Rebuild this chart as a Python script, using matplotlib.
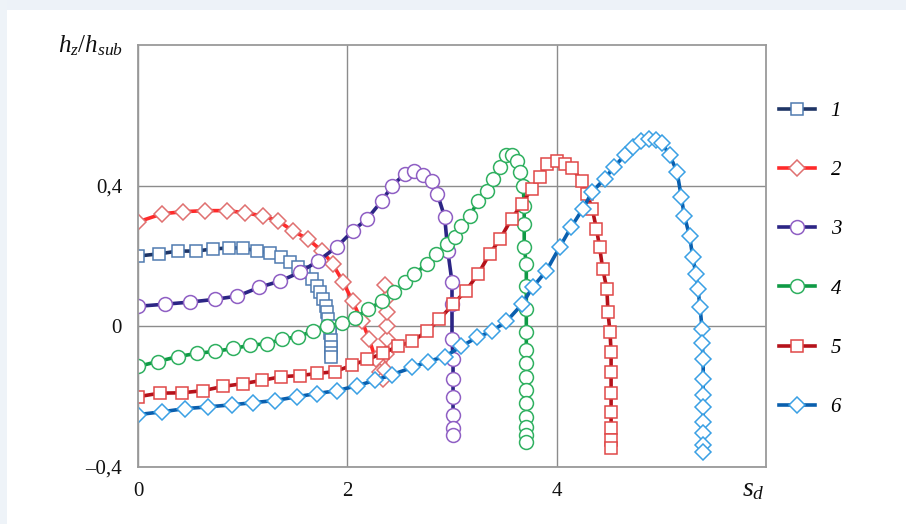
import matplotlib
matplotlib.use("Agg")
import matplotlib.pyplot as plt
from matplotlib.patches import Rectangle

# ---- data ----
s1 = [0.0, 0.20, 0.38, 0.55, 0.72, 0.87, 1.00, 1.14, 1.26, 1.37, 1.45, 1.53, 1.59, 1.66, 1.71,
      1.74, 1.77, 1.80, 1.81, 1.82, 1.83, 1.83, 1.84, 1.84, 1.84, 1.84]
v1 = [0.200, 0.206, 0.214, 0.214, 0.220, 0.223, 0.223, 0.214, 0.209, 0.197, 0.183, 0.169, 0.154,
      0.134, 0.114, 0.097, 0.077, 0.057, 0.040, 0.020, 0.000, -0.020, -0.040, -0.060, -0.075, -0.086]

s2 = [0.0, 0.23, 0.43, 0.64, 0.85, 1.02, 1.19, 1.34, 1.48, 1.62, 1.76, 1.86, 1.96, 2.05, 2.14,
      2.21, 2.27, 2.31, 2.34, 2.36, 2.37, 2.38, 2.38, 2.38, 2.37, 2.36]
v2 = [0.297, 0.320, 0.326, 0.329, 0.329, 0.323, 0.314, 0.300, 0.271, 0.249, 0.214, 0.177, 0.126,
      0.071, 0.014, -0.037, -0.094, -0.131, -0.151, -0.123, -0.080, -0.037, 0.000, 0.040, 0.077, 0.117]

s3 = [0.0, 0.26, 0.50, 0.74, 0.95, 1.16, 1.36, 1.55, 1.72, 1.90, 2.05, 2.19, 2.33, 2.43, 2.55,
      2.64, 2.72, 2.81, 2.86, 2.93, 2.96, 3.00, 3.00, 3.00, 3.01, 3.01, 3.01, 3.01, 3.01, 3.01]
v3 = [0.057, 0.063, 0.069, 0.077, 0.086, 0.111, 0.129, 0.154, 0.186, 0.226, 0.271, 0.306, 0.357,
      0.400, 0.434, 0.443, 0.429, 0.414, 0.377, 0.311, 0.214, 0.126, 0.063, -0.037, -0.094,
      -0.151, -0.200, -0.251, -0.289, -0.309]

s4 = [0.0, 0.19, 0.38, 0.56, 0.74, 0.91, 1.07, 1.23, 1.38, 1.53, 1.67, 1.81, 1.95, 2.07, 2.20,
      2.33, 2.45, 2.55, 2.64, 2.76, 2.85, 2.95, 3.03, 3.09, 3.17, 3.25, 3.33, 3.39, 3.46, 3.52,
      3.57, 3.62, 3.65, 3.68, 3.69, 3.69, 3.69, 3.71, 3.71, 3.71, 3.71, 3.71, 3.71, 3.71, 3.71,
      3.71, 3.71, 3.71, 3.71, 3.71]
v4 = [-0.114, -0.100, -0.086, -0.077, -0.071, -0.063, -0.054, -0.049, -0.037, -0.029, -0.014,
      0.000, 0.009, 0.023, 0.049, 0.071, 0.097, 0.126, 0.149, 0.177, 0.206, 0.234, 0.254, 0.286,
      0.314, 0.357, 0.386, 0.420, 0.454, 0.486, 0.486, 0.469, 0.440, 0.400, 0.343, 0.291, 0.226,
      0.177, 0.114, 0.049, -0.017, -0.066, -0.103, -0.143, -0.180, -0.217, -0.257, -0.286,
      -0.309, -0.329]

s5 = [0.0, 0.21, 0.42, 0.62, 0.81, 1.00, 1.18, 1.37, 1.55, 1.71, 1.88, 2.04, 2.19, 2.34, 2.48,
      2.62, 2.76, 2.88, 3.01, 3.13, 3.25, 3.36, 3.46, 3.57, 3.67, 3.76, 3.84, 3.91, 4.00, 4.08,
      4.15, 4.24, 4.29, 4.34, 4.38, 4.41, 4.44, 4.48, 4.49, 4.51, 4.52, 4.52, 4.52, 4.52, 4.52,
      4.52, 4.52]
v5 = [-0.200, -0.190, -0.189, -0.183, -0.171, -0.163, -0.154, -0.143, -0.140, -0.134, -0.129,
      -0.111, -0.094, -0.077, -0.057, -0.043, -0.014, 0.020, 0.063, 0.100, 0.149, 0.206, 0.249,
      0.306, 0.349, 0.391, 0.426, 0.463, 0.469, 0.463, 0.449, 0.414, 0.377, 0.334, 0.277, 0.226,
      0.163, 0.106, 0.040, -0.017, -0.074, -0.131, -0.189, -0.243, -0.289, -0.323, -0.346]

s6 = [0.0, 0.23, 0.45, 0.67, 0.90, 1.10, 1.31, 1.52, 1.71, 1.90, 2.09, 2.26, 2.43, 2.62, 2.77,
      2.93, 3.09, 3.24, 3.38, 3.52, 3.67, 3.77, 3.90, 4.03, 4.14, 4.25, 4.34, 4.46, 4.55, 4.65,
      4.73, 4.81, 4.88, 4.95, 5.01, 5.08, 5.15, 5.19, 5.22, 5.27, 5.30, 5.33, 5.35, 5.37, 5.39,
      5.39, 5.40, 5.40, 5.40, 5.40, 5.40, 5.40, 5.40, 5.40]
v6 = [-0.251, -0.243, -0.234, -0.229, -0.223, -0.217, -0.211, -0.200, -0.191, -0.183, -0.169,
      -0.154, -0.137, -0.117, -0.100, -0.086, -0.057, -0.031, -0.014, 0.014, 0.063, 0.111,
      0.157, 0.226, 0.283, 0.334, 0.383, 0.420, 0.454, 0.486, 0.511, 0.526, 0.534, 0.529,
      0.520, 0.486, 0.440, 0.369, 0.314, 0.257, 0.197, 0.149, 0.106, 0.054, -0.009, -0.046,
      -0.094, -0.151, -0.194, -0.229, -0.271, -0.303, -0.337, -0.357]

labels = ["1", "2", "3", "4", "5", "6"]
xticks = [0, 2, 4]
xticklabels = ["0", "2", "4"]
yticks = [-0.4, 0, 0.4]
yticklabels = ["\u20130,4", "0", "0,4"]

# ---- style ----
plt.rcParams["font.family"] = ["Liberation Serif", "DejaVu Serif"]
plt.rcParams["mathtext.fontset"] = "custom"
plt.rcParams["mathtext.rm"] = "Liberation Serif"
plt.rcParams["mathtext.it"] = "Liberation Serif:italic"

series = [
    (s1, v1, "s", "#1f3566", "#4f7bb0", 9),
    (s2, v2, "D", "#ff2a2a", "#e07070", 8.5),
    (s3, v3, "o", "#2c2585", "#8f5fc4", 10),
    (s4, v4, "o", "#0f9a45", "#2fb060", 10),
    (s5, v5, "s", "#b5121b", "#e04848", 9),
    (s6, v6, "D", "#0a5fae", "#3aa0e4", 8.5),
]

fig = plt.figure(figsize=(9.06, 5.24), dpi=100)
fig.patch.set_facecolor("white")
# faint page background strips
fig.patches.append(Rectangle((0, 0.98), 1, 0.02, transform=fig.transFigure,
                             facecolor="#edf2f8", edgecolor="none", zorder=-10))
fig.patches.append(Rectangle((0, 0), 0.008, 1, transform=fig.transFigure,
                             facecolor="#eef3f8", edgecolor="none", zorder=-10))

ax = fig.add_axes([138 / 906, 1 - 467 / 524, 628 / 906, 422 / 524])
for (s, v, m, lc, mc, ms), lab in zip(series, labels):
    ax.plot(s, v, color=lc, lw=2.6, marker=m, markersize=ms,
            markerfacecolor="white", markeredgecolor=mc, markeredgewidth=1.1,
            label=lab)

ax.set_xlim(0, 6)
ax.set_ylim(-0.4, 0.8)
ax.set_xticks(xticks)
ax.set_xticklabels(xticklabels)
ax.set_yticks(yticks)
ax.set_yticklabels(yticklabels)
ax.tick_params(length=0, labelsize=15, colors="#111111")
ax.tick_params(axis="y", pad=11.5)
ax.tick_params(axis="x", pad=11)
ax.grid(True, color="#8c8c8c", lw=1.0)
ax.set_axisbelow(True)
for sp in ax.spines.values():
    sp.set_color("#9a9a9a")
    sp.set_linewidth(1.3)

fig.text(123 / 906, 1 - 46 / 524, r"$h_z/h_{sub}$", ha="right", va="center",
         fontsize=18, color="#111111")
fig.text(753 / 906, 1 - 490 / 524, r"$s_d$", ha="center", va="center",
         fontsize=20, color="#111111")

leg = ax.legend(loc="upper left", bbox_to_anchor=(1.02, 0.866), frameon=False,
                borderpad=0, borderaxespad=0,
                handlelength=1.75, handletextpad=0.75, labelspacing=1.9,
                prop={"family": "Liberation Serif", "style": "italic", "size": 15})

fig.savefig("out.png", dpi=100)
